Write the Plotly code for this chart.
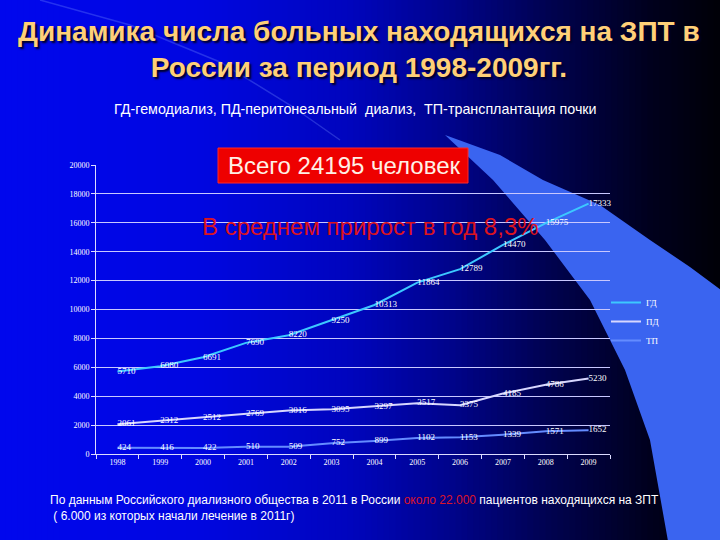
import plotly.graph_objects as go

years = ["1998", "1999", "2000", "2001", "2002", "2003", "2004", "2005", "2006", "2007", "2008", "2009"]
gd_values = [5710, 6080, 6691, 7690, 8220, 9250, 10313, 11864, 12789, 14470, 15975, 17333]
pd_values = [2061, 2312, 2512, 2769, 3016, 3095, 3297, 3517, 3375, 4185, 4786, 5230]
tp_values = [424, 416, 422, 510, 509, 752, 899, 1102, 1153, 1339, 1571, 1652]
series_names = ["ГД", "ПД", "ТП"]

W, H = 720, 540
L, R, T, B = 96, 610, 165, 454


def px(x):
    return (x - L) / (R - L)


def py(y):
    return (B - y) / (B - T)


shapes = []
# horizontal gradient background
stops = [(0, 238), (200, 225), (350, 190), (450, 140), (550, 80), (650, 30), (720, 8)]


def blue_at(x):
    for (x0, b0), (x1, b1) in zip(stops[:-1], stops[1:]):
        if x0 <= x <= x1:
            t = (x - x0) / (x1 - x0)
            return b0 + (b1 - b0) * t
    return stops[-1][1]


step = 6
for x in range(0, W, step):
    b = int(blue_at(x + step / 2))
    shapes.append(dict(type="rect", xref="paper", yref="paper", layer="below",
                       x0=px(x - 0.5), x1=px(x + step + 0.5), y0=py(H + 1), y1=py(-1),
                       fillcolor=f"rgb(0,{int(b*0.03)},{b})", line=dict(width=0)))

# decorative light band on the right
left_edge = [(445, 135), (493, 180), (545, 240), (590, 300), (625, 370), (650, 440), (668, 541)]
right_edge = [(721, 541), (721, 290), (690, 267), (650, 240), (600, 205), (543, 180), (500, 155)]
pts = left_edge + right_edge
path = "M " + " L ".join(f"{px(a):.4f},{py(b):.4f}" for a, b in pts) + " Z"
shapes.append(dict(type="path", xref="paper", yref="paper", layer="below", path=path,
                   fillcolor="rgb(58,100,240)", line=dict(width=0)))
# faint arc
arc = [(40, 0), (130, 25), (220, 62), (290, 105), (340, 140)]
arc_path = "M " + " L ".join(f"{px(a):.4f},{py(b):.4f}" for a, b in arc)
shapes.append(dict(type="path", xref="paper", yref="paper", layer="below", path=arc_path,
                   line=dict(color="rgba(120,150,255,0.3)", width=1.5)))
# red box
shapes.append(dict(type="rect", xref="paper", yref="paper", layer="above",
                   x0=px(218), x1=px(468), y0=py(183), y1=py(148),
                   fillcolor="rgb(238,0,0)", line=dict(color="rgb(255,40,40)", width=1)))

fig = go.Figure()
label_font = dict(family="Liberation Serif", size=9, color="white")
fig.add_trace(go.Scatter(x=years, y=gd_values, name=series_names[0], mode="lines+text",
                         text=[str(v) for v in gd_values], textposition="middle right",
                         cliponaxis=False,
                         textfont=label_font, line=dict(color="rgb(60,200,255)", width=2)))
fig.add_trace(go.Scatter(x=years, y=pd_values, name=series_names[1], mode="lines+text",
                         text=[str(v) for v in pd_values], textposition="middle right",
                         cliponaxis=False,
                         textfont=label_font, line=dict(color="rgb(215,215,255)", width=2)))
fig.add_trace(go.Scatter(x=years, y=tp_values, name=series_names[2], mode="lines+text",
                         text=[str(v) for v in tp_values], textposition="middle right",
                         cliponaxis=False,
                         textfont=label_font, line=dict(color="rgb(100,140,255)", width=2)))

annotations = [
    dict(x=px(359), y=py(49), xref="paper", yref="paper", showarrow=False,
         text="<b>Динамика числа больных находящихся на ЗПТ в<br>России за период 1998-2009гг.</b>",
         font=dict(family="Liberation Sans", size=28, color="rgb(255,208,120)",
                   shadow="2px 2px 2px rgb(0,0,40)"),
         align="center", xanchor="center", yanchor="middle"),
    dict(x=px(355), y=py(109), xref="paper", yref="paper", showarrow=False,
         text="ГД-гемодиализ, ПД-перитонеальный  диализ,  ТП-трансплантация почки",
         font=dict(family="Liberation Sans", size=14.3, color="white"),
         xanchor="center", yanchor="middle"),
    dict(x=px(344), y=py(165.5), xref="paper", yref="paper", showarrow=False,
         text="Всего 24195 человек",
         font=dict(family="Liberation Sans", size=24, color="rgb(255,240,230)"),
         xanchor="center", yanchor="middle"),
    dict(x=px(370), y=py(226), xref="paper", yref="paper", showarrow=False,
         text="В среднем прирост в год 8,3%",
         font=dict(family="Liberation Sans", size=24, color="rgb(220,20,30)"),
         xanchor="center", yanchor="middle"),
    dict(x=px(48), y=py(508), xref="paper", yref="paper", showarrow=False,
         text=("По данным Российского диализного общества в 2011 в России "
               "<span style='color:rgb(220,20,40)'>около 22.000</span> пациентов находящихся на ЗПТ"
               "<br> ( 6.000 из которых начали лечение в 2011г)"),
         font=dict(family="Liberation Sans", size=12, color="white"),
         align="left", xanchor="left", yanchor="middle"),
]

fig.update_layout(
    width=W, height=H,
    margin=dict(l=L, r=W - R, t=T, b=H - B, pad=0),
    paper_bgcolor="rgb(0,0,150)", plot_bgcolor="rgba(0,0,0,0)",
    shapes=shapes, annotations=annotations,
    showlegend=True,
    legend=dict(x=px(606), y=py(288), xref="paper", yref="paper", xanchor="left", yanchor="top",
                bgcolor="rgba(0,0,0,0)", font=dict(family="Liberation Serif", size=9, color="white"),
                tracegroupgap=0, itemwidth=30),
    xaxis=dict(type="category", range=[-0.5, 11.5], showgrid=False, showline=True,
               linecolor="rgb(220,220,255)", linewidth=1, ticks="outside", ticklen=4,
               tickson="boundaries", tickcolor="rgb(220,220,255)",
               tickfont=dict(family="Liberation Serif", size=8, color="white"), fixedrange=True),
    yaxis=dict(range=[0, 20000], dtick=2000, tickformat="d", showgrid=True,
               gridcolor="rgb(200,200,255)",
               gridwidth=1, showline=True, linecolor="rgb(220,220,255)", linewidth=1,
               ticks="outside", ticklen=4, tickcolor="rgb(220,220,255)", zeroline=False,
               tickfont=dict(family="Liberation Serif", size=8, color="white"), fixedrange=True),
)

fig.write_html("out.html", config={"displayModeBar": False},
               post_script="document.body.style.margin='0';document.body.style.background='rgb(0,0,150)';")
